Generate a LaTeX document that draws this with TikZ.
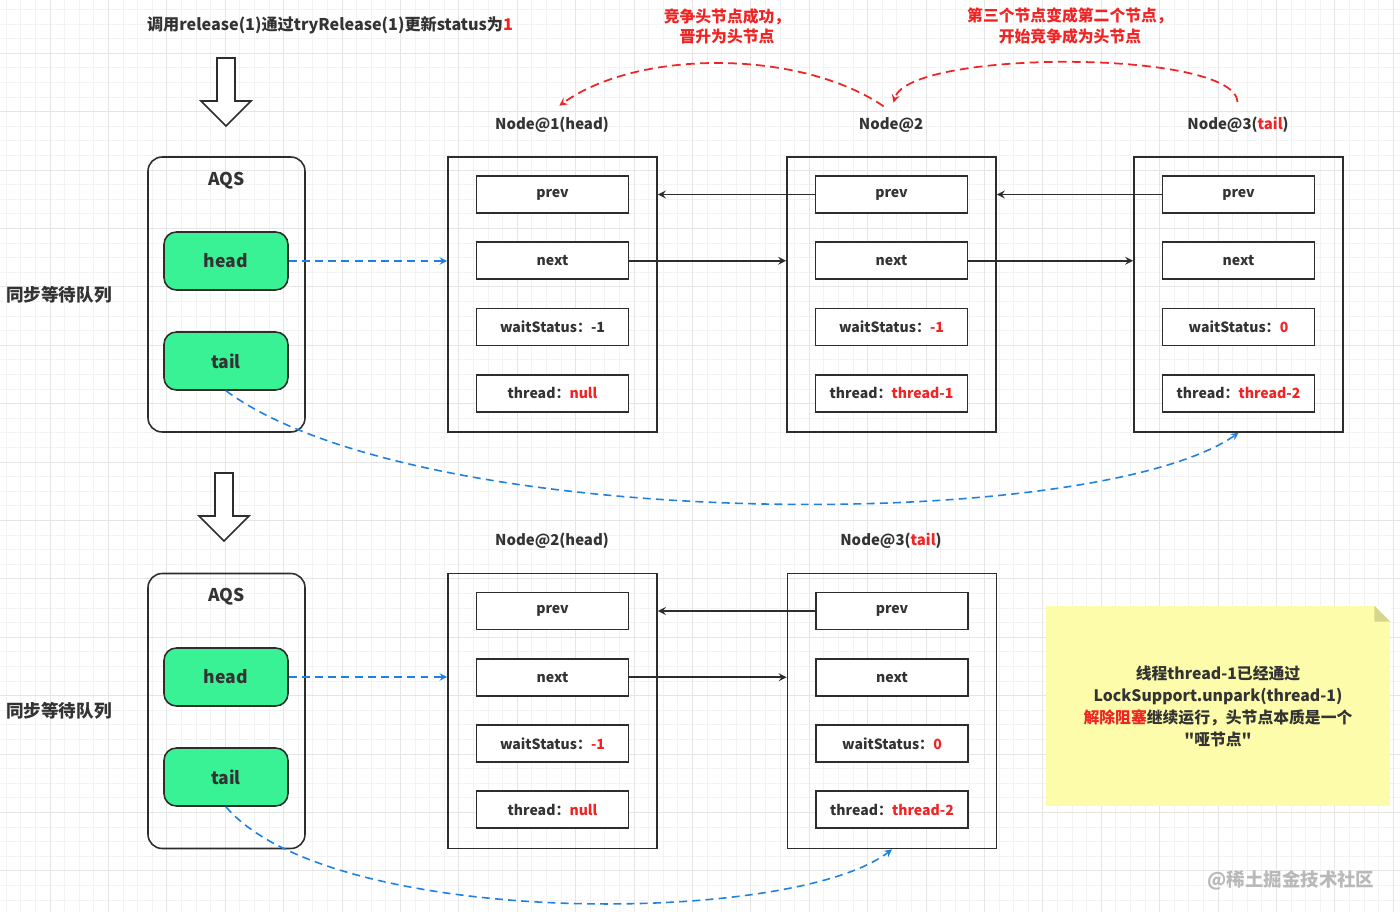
\documentclass[tikz,border=0pt]{standalone}
\usepackage{fontspec}
\setmainfont{Noto Sans CJK SC}[Ligatures=TeXOff]
\usetikzlibrary{positioning,calc}
\definecolor{linecolor}{RGB}{45,45,45}
\definecolor{textcolor}{RGB}{51,51,51}
\definecolor{ptrgreen}{RGB}{58,242,150}
\definecolor{linkblue}{RGB}{30,128,224}
\definecolor{hlred}{RGB}{240,36,36}
\definecolor{notecolor}{RGB}{252,252,170}
\definecolor{foldcolor}{RGB}{214,214,140}
\definecolor{gridminor}{RGB}{243,243,243}
\definecolor{gridmajor}{RGB}{229,229,229}
\definecolor{markgray}{RGB}{185,185,185}
\newcommand{\redtxt}[1]{\textcolor{hlred}{#1}}

\begin{document}
\begin{tikzpicture}[
    x=0.02cm, y=-0.02cm,
    node distance=0.55cm,
    every node/.style={text=textcolor},
    queuebox/.style={rectangle, draw=linecolor, line width=0.9pt, rounded corners=8pt, minimum width=3.14cm, minimum height=5.5cm},
    ptr/.style={rectangle, draw=linecolor, line width=0.9pt, fill=ptrgreen, rounded corners=7pt, minimum width=2.48cm, minimum height=1.16cm, font=\fontsize{10}{12}\selectfont\bfseries},
    nodebox/.style={rectangle, draw=linecolor, line width=1pt, minimum width=4.18cm, minimum height=5.5cm},
    field/.style={rectangle, draw=linecolor, line width=1pt, fill=white, minimum width=3.04cm, minimum height=0.74cm, font=\fontsize{8}{10}\selectfont\bfseries},
    nodelabel/.style={font=\fontsize{8.5}{10}\selectfont\bfseries},
    boxtitle/.style={font=\fontsize{10}{12}\selectfont\bfseries},
    sidetext/.style={anchor=west, font=\fontsize{10}{12}\selectfont\bfseries},
    redtext/.style={align=center, text=hlred, font=\fontsize{9}{11.5}\selectfont\bfseries},
    notebox/.style={rectangle, fill=notecolor, minimum width=6.88cm, minimum height=4cm, align=center, font=\fontsize{9}{12.5}\selectfont\bfseries},
    hollowarrow/.style={draw=linecolor, fill=white, line width=0.9pt},
    link/.style={->, >=stealth, line width=1pt, linecolor},
    ptrlink/.style={->, >=stealth, line width=0.9pt, linkblue, dash pattern=on 4.5pt off 3pt},
    moveto/.style={->, >=stealth, line width=1pt, hlred, dash pattern=on 5pt off 3pt, shorten <=0.18cm, shorten >=0.18cm}
]
\useasboundingbox (0,0) rectangle (1400,912);

% Background grid
\fill[white] (0,0) rectangle (1400,912);
\foreach \i in {0,...,95} {
    \draw[gridminor, line width=0.4pt] ({6.2+14.6*\i},0) -- ({6.2+14.6*\i},912);
}
\foreach \i in {0,...,62} {
    \draw[gridminor, line width=0.4pt] (0,{9.4+14.6*\i}) -- (1400,{9.4+14.6*\i});
}
\foreach \i in {0,...,24} {
    \draw[gridmajor, line width=0.5pt] ({-8.4+58.4*\i},0) -- ({-8.4+58.4*\i},912);
}
\foreach \i in {0,...,16} {
    \draw[gridmajor, line width=0.5pt] (0,{-5.2+58.4*\i}) -- (1400,{-5.2+58.4*\i});
}

% Title and step arrow
\node[font=\fontsize{9.2}{11}\selectfont\bfseries] (title) at (330,25) {调用release(1)通过tryRelease(1)更新status为\redtxt{1}};
\draw[hollowarrow] (217,58) -- (235,58) -- (235,101) -- (251,101) -- (226,126) -- (201,101) -- (217,101) -- cycle;

% ---------- Before: three nodes ----------
\node[queuebox] (aqs1) at (226.5,294.5) {};
\node[boxtitle] (aqsname1) at (226.5,181) {AQS};
\node[ptr] (head1) at (226,261) {head};
\node[ptr] (tail1) at (226,361) {tail};
\node[sidetext] (queue1) at (0,295) {同步等待队列};

\node[nodelabel] (lab1) at (552,125) {Node@1(head)};
\node[nodelabel] (lab2) at (891,125) {Node@2};
\node[nodelabel] (lab3) at (1238,125) {Node@3(\redtxt{tail})};

\node[nodebox] (n1) at (552.5,294.5) {};
\node[field, below=0.38cm of n1.north] (prev1) {prev};
\node[field, below=of prev1] (next1) {next};
\node[field, below=of next1] (wait1) {waitStatus：-1};
\node[field, below=of wait1] (thread1) {thread：\redtxt{null}};

\node[nodebox] (n2) at (891.5,294.5) {};
\node[field, below=0.38cm of n2.north] (prev2) {prev};
\node[field, below=of prev2] (next2) {next};
\node[field, below=of next2] (wait2) {waitStatus：\redtxt{-1}};
\node[field, below=of wait2] (thread2) {thread：\redtxt{thread-1}};

\node[nodebox] (n3) at (1238.5,294.5) {};
\node[field, below=0.38cm of n3.north] (prev3) {prev};
\node[field, below=of prev3] (next3) {next};
\node[field, below=of next3] (wait3) {waitStatus：\redtxt{0}};
\node[field, below=of wait3] (thread3) {thread：\redtxt{thread-2}};

% prev / next links
\draw[link] (prev2.west) -- (prev2.west -| n1.east);
\draw[link] (next1.east) -- (next1.east -| n2.west);
\draw[link] (prev3.west) -- (prev3.west -| n2.east);
\draw[link] (next2.east) -- (next2.east -| n3.west);

% AQS pointers
\draw[ptrlink] (head1.east) -- (head1.east -| n1.west);
\draw[ptrlink] (tail1.south) .. controls +(194,143) and +(-146,101) .. (n3.south);

% Head moves forward
\node[redtext] (step1) at (727,26) {竞争头节点成功，\\晋升为头节点};
\node[redtext] (step2) at (1070,26) {第三个节点变成第二个节点，\\开始竞争成为头节点};
\draw[moveto] (lab2.north) .. controls +(-91,-62) and +(86,-62) .. (lab1.north);
\draw[moveto] (lab3.north) .. controls +(-3,-62) and +(18,-62) .. (lab2.north);

\draw[hollowarrow] (215,473) -- (233,473) -- (233,516) -- (249,516) -- (224,541) -- (199,516) -- (215,516) -- cycle;

% ---------- After: two nodes ----------
\node[queuebox] (aqs2) at (226.5,711) {};
\node[boxtitle] (aqsname2) at (226.5,597) {AQS};
\node[ptr] (head2) at (226,677) {head};
\node[ptr] (tail2) at (226,777) {tail};
\node[sidetext] (queue2) at (0,711) {同步等待队列};

\node[nodelabel] (lab4) at (552,541) {Node@2(head)};
\node[nodelabel] (lab5) at (891,541) {Node@3(\redtxt{tail})};

\node[nodebox] (m2) at (552.5,711) {};
\node[field, below=0.38cm of m2.north] (prevm2) {prev};
\node[field, below=of prevm2] (nextm2) {next};
\node[field, below=of nextm2] (waitm2) {waitStatus：\redtxt{-1}};
\node[field, below=of waitm2] (threadm2) {thread：\redtxt{null}};

\node[nodebox] (m3) at (892,711) {};
\node[field, below=0.38cm of m3.north] (prevm3) {prev};
\node[field, below=of prevm3] (nextm3) {next};
\node[field, below=of nextm3] (waitm3) {waitStatus：\redtxt{0}};
\node[field, below=of waitm3] (threadm3) {thread：\redtxt{thread-2}};

\draw[link] (prevm3.west) -- (prevm3.west -| m2.east);
\draw[link] (nextm2.east) -- (nextm2.east -| m3.west);

\draw[ptrlink] (head2.east) -- (head2.east -| m2.west);
\draw[ptrlink] (tail2.south) .. controls +(104,122) and +(-100,77) .. (m3.south);

% Note
\node[notebox] (note) at (1218,706) {线程thread-1已经通过\\LockSupport.unpark(thread-1)\\\redtxt{解除阻塞}继续运行，头节点本质是一个\\"哑节点"};
\fill[white] (note.north east) -- ++(-16,0) -- ++(16,16) -- cycle;
\fill[foldcolor] ($(note.north east)+(-16,0)$) -- ++(0,16) -- ++(16,0) -- cycle;

\node[text=markgray, font=\fontsize{10.5}{12}\selectfont\bfseries] (mark) at (1291,880) {@稀土掘金技术社区};

\end{tikzpicture}
\end{document}
